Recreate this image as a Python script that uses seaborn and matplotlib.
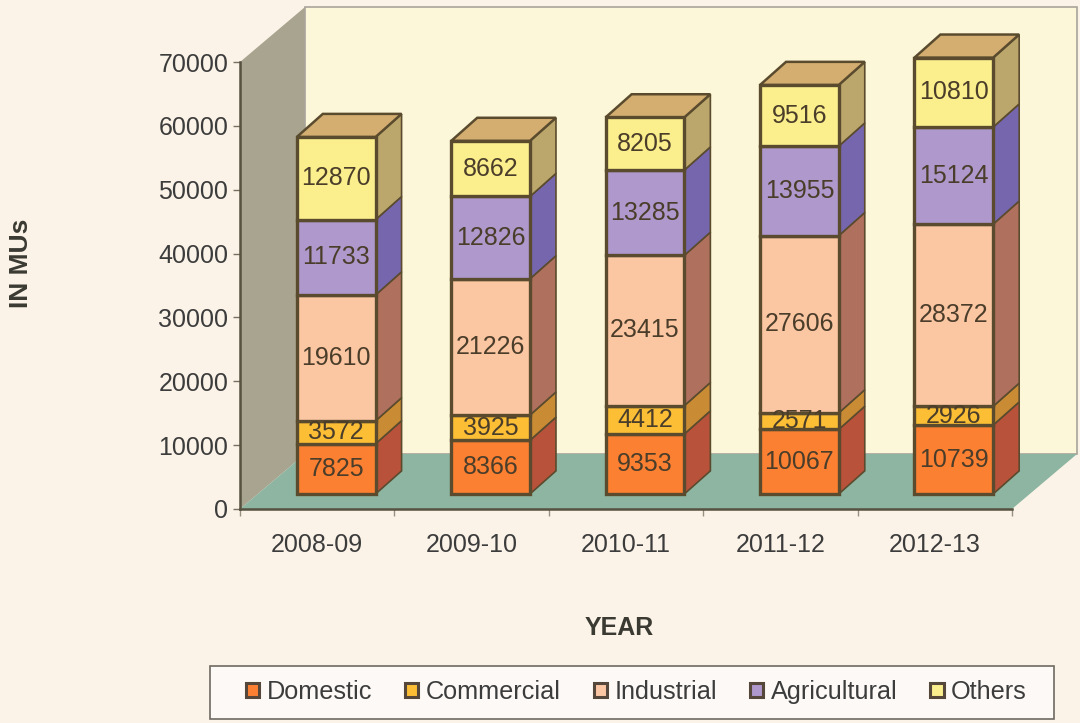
import numpy as np
import matplotlib
matplotlib.use("Agg")
import matplotlib.pyplot as plt
import seaborn as sns
from matplotlib.patches import Patch, Polygon, Rectangle
from matplotlib.transforms import Affine2D

years = ["2008-09", "2009-10", "2010-11", "2011-12", "2012-13"]
domestic = [7825, 8366, 9353, 10067, 10739]
commercial = [3572, 3925, 4412, 2571, 2926]
industrial = [19610, 21226, 23415, 27606, 28372]
agricultural = [11733, 12826, 13285, 13955, 15124]
others = [12870, 8662, 8205, 9516, 10810]

names = ["Domestic", "Commercial", "Industrial", "Agricultural", "Others"]
series = [domestic, commercial, industrial, agricultural, others]
front_cols = ["#FC8032", "#FBBE35", "#FBC6A2", "#AE98CC", "#FBEE8C"]
side_cols = ["#B9523A", "#C98B33", "#B0705E", "#7566AE", "#BBA66C"]
top_col = "#D3AE70"
edge = "#5A4B2E"
text_col = "#4A3D2A"
bg = "#FBF3E8"

sns.set_theme(style="white")
plt.rcParams["font.family"] = ["Liberation Sans", "DejaVu Sans"]

fig = plt.figure(figsize=(10.8, 7.23), dpi=100, facecolor=bg)
ax = fig.add_axes([0, 0, 1, 1], facecolor="none")

# pixel scales of the front plane
px_x = 154.4
px_y = 70000 / 447
wall_dx, wall_dy = 65 / px_x, 55 * px_y
bar_dx, bar_dy = 26 / px_x, 23 * px_y
bar_w = 0.51

bottom = np.zeros(5)
for name, vals, c in zip(names, series, front_cols):
    sns.barplot(x=years, y=vals, bottom=bottom, color=c, saturation=1, width=bar_w,
                errorbar=None, edgecolor=edge, linewidth=2.4, zorder=4, ax=ax)
    bottom = bottom + np.array(vals)

ax.set_xlim(-0.5 - 240 / px_x, -0.5 + (1080 - 240) / px_x)
ax.set_ylim(-214 * px_y, 509 * px_y)

# the bars stand inside the floor, a bit nearer the back wall and slightly larger
bar_shift = Affine2D().translate(0, -214).scale(1, 1.0053).translate(19, 229)
bar_tr = ax.transData + bar_shift
for bar in ax.patches:
    bar.set_transform(bar_tr)

# walls and floor
ax.add_patch(Polygon([(-0.5, 0), (-0.5 + wall_dx, wall_dy), (-0.5 + wall_dx, 70000 + wall_dy), (-0.5, 70000)],
                     fc="#A9A48F", ec="none", zorder=1))
ax.add_patch(Polygon([(-0.5 + wall_dx, wall_dy), (4.5 + wall_dx, wall_dy), (4.5 + wall_dx, 70000 + wall_dy),
                      (-0.5 + wall_dx, 70000 + wall_dy)], fc="#FCF7D8", ec="#A8A49A", lw=1.2, zorder=1))
ax.add_patch(Polygon([(-0.5, 0), (4.5, 0), (4.5 + wall_dx, wall_dy), (-0.5 + wall_dx, wall_dy)],
                     fc="#8DB5A1", ec="none", zorder=1.5))

# 3d sides, tops and value labels
bottom = np.zeros(5)
for vals, side in zip(series, side_cols):
    for k, v in enumerate(vals):
        r = k + bar_w / 2
        b, t = bottom[k], bottom[k] + v
        ax.add_patch(Polygon([(r, b), (r + bar_dx, b + bar_dy), (r + bar_dx, t + bar_dy), (r, t)],
                             fc=side, ec=edge, lw=1.2, zorder=3, transform=bar_tr))
        ax.text(k, b + v / 2, str(v), ha="center", va="center", fontsize=18, color=text_col,
                zorder=6, transform=bar_tr)
    bottom = bottom + np.array(vals)
for k, t in enumerate(bottom):
    l, r = k - bar_w / 2, k + bar_w / 2
    ax.add_patch(Polygon([(l, t), (r, t), (r + bar_dx, t + bar_dy), (l + bar_dx, t + bar_dy)],
                         fc=top_col, ec=edge, lw=1.8, zorder=3, transform=bar_tr))

# axes
for s in ["top", "right"]:
    ax.spines[s].set_visible(False)
ax.spines["left"].set_position(("data", -0.5))
ax.spines["left"].set_bounds(0, 70000)
ax.spines["bottom"].set_position(("data", 0))
ax.spines["bottom"].set_bounds(-0.5, 4.5)
for s in ["left", "bottom"]:
    ax.spines[s].set_color("#55503F")
    ax.spines[s].set_linewidth(1.8)
    ax.spines[s].set_zorder(2.5)

ax.set_yticks(np.arange(0, 70001, 10000))
ax.tick_params(axis="y", left=True, length=5, width=1, color="#777060", pad=3.5,
               labelsize=18, labelcolor="#3C3C3C")
ax.set_xticks(range(5))
ax.set_xticklabels(years)
ax.set_xticks(np.arange(-0.5, 5), minor=True)
ax.tick_params(axis="x", which="major", bottom=False, pad=11, labelsize=18, labelcolor="#3C3C3C")
ax.tick_params(axis="x", which="minor", bottom=True, length=5, width=1, color="#999080")
ax.set_xlabel("")
ax.set_ylabel("")

fig.text(21 / 1080, 1 - 263 / 723, "IN MUs", rotation=90, ha="center", va="center",
         fontsize=19, fontweight="bold", color="#3A3A32")
fig.text(619 / 1080, 1 - 628 / 723, "YEAR", ha="center", va="center",
         fontsize=18, fontweight="bold", color="#3A3A32")

# legend box is a bit flatter than the legend's own padding allows
fig.add_artist(Rectangle((210 / 1080, 1 - 719 / 723), 844 / 1080, 53 / 723, transform=fig.transFigure,
                         fc="#FCF9F6", ec="#6E6A62", lw=1.2, zorder=1))
handles = [Patch(fc=c, ec="#55483A", lw=2.2, label=n) for n, c in zip(names, front_cols)]
leg = fig.legend(handles=handles, ncol=5, loc="center", bbox_to_anchor=(636.5 / 1080, 1 - 692 / 723),
                 fontsize=18.2, frameon=False, handlelength=0.52, handleheight=0.52,
                 handletextpad=0.3, columnspacing=1.3, labelcolor="#3C3C3C")
leg.set_zorder(2)

fig.savefig("out.png", dpi=100, facecolor=bg)
